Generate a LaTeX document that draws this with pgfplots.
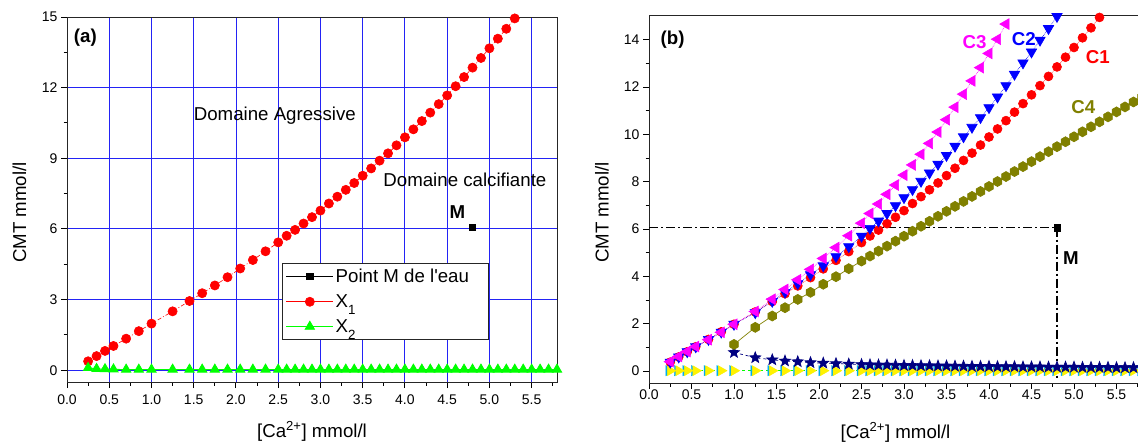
\documentclass[border=0pt]{standalone}
\usepackage{fontspec}
\setmainfont{Liberation Sans}
\usepackage{pgfplots}
\pgfplotsset{compat=1.18}
\usepackage{pgfplotstable}

\definecolor{gridblue}{RGB}{35,35,245}
\definecolor{navyc}{RGB}{0,0,128}
\definecolor{olivec}{RGB}{128,128,0}
\definecolor{magc}{RGB}{255,0,255}

\pgfdeclareplotmark{hexagon*}{%
  \pgfpathmoveto{\pgfpointpolar{90}{\pgfplotmarksize}}%
  \pgfpathlineto{\pgfpointpolar{150}{\pgfplotmarksize}}%
  \pgfpathlineto{\pgfpointpolar{210}{\pgfplotmarksize}}%
  \pgfpathlineto{\pgfpointpolar{270}{\pgfplotmarksize}}%
  \pgfpathlineto{\pgfpointpolar{330}{\pgfplotmarksize}}%
  \pgfpathlineto{\pgfpointpolar{30}{\pgfplotmarksize}}%
  \pgfpathclose\pgfusepathqfillstroke}

\pgfdeclareplotmark{fstar}{%
  \pgfpathmoveto{\pgfpointpolar{90}{\pgfplotmarksize}}%
  \pgfpathlineto{\pgfpointpolar{126}{0.42*\pgfplotmarksize}}%
  \pgfpathlineto{\pgfpointpolar{162}{\pgfplotmarksize}}%
  \pgfpathlineto{\pgfpointpolar{198}{0.42*\pgfplotmarksize}}%
  \pgfpathlineto{\pgfpointpolar{234}{\pgfplotmarksize}}%
  \pgfpathlineto{\pgfpointpolar{270}{0.42*\pgfplotmarksize}}%
  \pgfpathlineto{\pgfpointpolar{306}{\pgfplotmarksize}}%
  \pgfpathlineto{\pgfpointpolar{342}{0.42*\pgfplotmarksize}}%
  \pgfpathlineto{\pgfpointpolar{18}{\pgfplotmarksize}}%
  \pgfpathlineto{\pgfpointpolar{54}{0.42*\pgfplotmarksize}}%
  \pgfpathclose\pgfusepathqfillstroke}

% X1 (= C1)
\pgfplotstableread{
x y
0.25 0.38
0.35 0.60
0.45 0.82
0.55 1.03
0.70 1.34
0.85 1.66
1.00 1.98
1.25 2.50
1.45 2.94
1.60 3.27
1.75 3.60
1.90 3.95
2.05 4.32
2.20 4.68
2.35 5.05
2.50 5.43
2.60 5.71
2.70 5.96
2.80 6.23
2.90 6.50
3.00 6.78
3.10 7.08
3.20 7.37
3.30 7.66
3.40 7.95
3.50 8.26
3.60 8.57
3.70 8.90
3.80 9.21
3.90 9.55
4.00 9.89
4.10 10.23
4.20 10.58
4.30 10.94
4.40 11.30
4.50 11.67
4.60 12.06
4.70 12.45
4.80 12.85
4.90 13.26
5.00 13.67
5.10 14.08
5.20 14.50
5.30 14.94
}\xone

% X2
\pgfplotstableread{
x y
0.25 0.10
0.35 0.06
0.45 0.05
0.55 0.04
0.70 0.03
0.85 0.03
1.00 0.03
1.25 0.03
1.45 0.03
1.60 0.03
1.75 0.03
1.90 0.03
2.05 0.03
2.20 0.03
2.35 0.03
2.50 0.03
2.60 0.03
2.70 0.03
2.80 0.03
2.90 0.03
3.00 0.03
3.10 0.03
3.20 0.03
3.30 0.03
3.40 0.03
3.50 0.03
3.60 0.03
3.70 0.03
3.80 0.03
3.90 0.03
4.00 0.03
4.10 0.03
4.20 0.03
4.30 0.03
4.40 0.03
4.50 0.03
4.60 0.03
4.70 0.03
4.80 0.03
4.90 0.03
5.00 0.03
5.10 0.03
5.20 0.03
5.30 0.03
5.40 0.03
5.50 0.03
5.60 0.03
5.70 0.03
5.80 0.03
}\xtwo

% C2
\pgfplotstableread{
x y
0.25 0.38
0.35 0.60
0.45 0.82
0.55 1.03
0.70 1.34
0.85 1.65
1.00 1.98
1.25 2.47
1.45 2.95
1.60 3.33
1.75 3.70
1.90 4.08
2.05 4.45
2.20 4.84
2.35 5.26
2.50 5.70
2.60 6.03
2.70 6.34
2.80 6.66
2.90 6.99
3.00 7.33
3.10 7.67
3.20 8.02
3.30 8.37
3.40 8.74
3.50 9.11
3.60 9.50
3.70 9.90
3.80 10.30
3.90 10.71
4.00 11.13
4.10 11.58
4.20 12.06
4.30 12.54
4.40 13.02
4.50 13.48
4.60 13.98
4.70 14.47
4.80 14.98
}\ctwo

% C3
\pgfplotstableread{
x y
0.25 0.40
0.35 0.62
0.45 0.83
0.55 1.04
0.70 1.33
0.85 1.64
1.00 1.98
1.25 2.52
1.45 3.04
1.60 3.45
1.75 3.86
1.90 4.30
2.05 4.76
2.20 5.22
2.35 5.72
2.50 6.25
2.60 6.66
2.70 7.06
2.80 7.47
2.90 7.86
3.00 8.28
3.10 8.71
3.20 9.16
3.30 9.62
3.40 10.10
3.50 10.62
3.60 11.15
3.70 11.70
3.80 12.26
3.90 12.82
4.00 13.42
4.10 14.02
4.20 14.66
}\cthree

% C4
\pgfplotstableread{
x y
1.00 1.13
1.25 1.85
1.45 2.33
1.60 2.68
1.75 3.03
1.90 3.33
2.05 3.67
2.20 3.99
2.35 4.33
2.50 4.65
2.60 4.86
2.70 5.07
2.80 5.28
2.90 5.49
3.00 5.70
3.10 5.91
3.20 6.12
3.30 6.33
3.40 6.54
3.50 6.75
3.60 6.96
3.70 7.17
3.80 7.38
3.90 7.59
4.00 7.80
4.10 8.01
4.20 8.22
4.30 8.43
4.40 8.64
4.50 8.85
4.60 9.06
4.70 9.27
4.80 9.48
4.90 9.69
5.00 9.90
5.10 10.11
5.20 10.32
5.30 10.53
5.40 10.74
5.50 10.95
5.60 11.16
5.70 11.37
5.80 11.58
}\cfour

% stars
\pgfplotstableread{
x y
1.00 0.79
1.25 0.57
1.45 0.48
1.60 0.43
1.75 0.40
1.90 0.36
2.05 0.34
2.20 0.32
2.35 0.30
2.50 0.28
2.60 0.27
2.70 0.26
2.80 0.26
2.90 0.25
3.00 0.24
3.10 0.24
3.20 0.23
3.30 0.23
3.40 0.22
3.50 0.22
3.60 0.21
3.70 0.21
3.80 0.20
3.90 0.20
4.00 0.20
4.10 0.19
4.20 0.19
4.30 0.19
4.40 0.18
4.50 0.18
4.60 0.18
4.70 0.17
4.80 0.17
4.90 0.17
5.00 0.17
5.10 0.16
5.20 0.16
5.30 0.16
5.40 0.16
5.50 0.15
5.60 0.15
5.70 0.15
5.80 0.15
}\cstar

% bottom series (yellow / cyan)
\pgfplotstableread{
x y
0.25 0.02
0.35 0.02
0.45 0.02
0.55 0.02
0.70 0.02
0.85 0.02
1.00 0.02
1.25 0.02
1.45 0.02
1.60 0.02
1.75 0.02
1.90 0.02
2.05 0.02
2.20 0.02
2.35 0.02
2.50 0.02
2.60 0.02
2.70 0.02
2.80 0.02
2.90 0.02
3.00 0.02
3.10 0.02
3.20 0.02
3.30 0.02
3.40 0.02
3.50 0.02
3.60 0.02
3.70 0.02
3.80 0.02
3.90 0.02
4.00 0.02
4.10 0.02
4.20 0.02
4.30 0.02
4.40 0.02
4.50 0.02
4.60 0.02
4.70 0.02
4.80 0.02
4.90 0.02
5.00 0.02
5.10 0.02
5.20 0.02
5.30 0.02
5.40 0.02
5.50 0.02
5.60 0.02
5.70 0.02
5.80 0.02
}\cbot

\newcommand{\bigf}{\fontsize{18.67}{22}\selectfont}
\newcommand{\tck}{\fontsize{14}{16}\selectfont}
\newcommand{\sub}[1]{\raisebox{-7pt}{\fontsize{13.33}{14}\selectfont #1}}

\pgfplotsset{
  common/.style={
    scale only axis,
    anchor=south west,
    xmin=0, xmax=5.8, ymin=-0.5, ymax=15,
    xtick={0,0.5,...,5.5},
    minor xtick={0.25,0.75,...,5.75},
    tick align=outside,
    tick pos=left,
    major tick length=6pt,
    minor tick length=3.5pt,
    every tick/.style={black, line width=1pt},
    axis line style={line width=1pt, black!85},
    tick label style={font=\tck},
    /pgf/number format/assume math mode=true,
    xticklabel style={/pgf/number format/.cd, fixed, fixed zerofill, precision=1},
    label style={font=\bigf},
    xlabel={[Ca\textsuperscript{2+}] mmol/l},
    ylabel={CMT mmol/l},
    xlabel style={at={(axis description cs:0.5,0)}, anchor=base, yshift=-55pt},
  },
}

\begin{document}
\begin{tikzpicture}
\useasboundingbox (0,0) rectangle (1138pt,445pt);

% ---------------- (a) ----------------
\begin{axis}[common,
  at={(67pt,63pt)}, width=490pt, height=365pt,
  ytick={0,3,...,15},
  minor ytick={1.5,4.5,...,13.5},
  yticklabel style={/pgf/number format/.cd, fixed, precision=0},
  xticklabel style={/tikz/yshift=-3pt},
  grid=major,
  major grid style={gridblue, line width=0.9pt},
  ylabel style={at={(axis description cs:-0.097,0.464)}, anchor=center},
  legend style={at={(axis cs:2.55,4.55)}, anchor=north west, draw=black!85,
    line width=1pt, font=\bigf, inner xsep=3pt, inner ysep=3.5pt, row sep=6.5pt,
    cells={anchor=west}},
  legend image code/.code={\draw[mark repeat=2,mark phase=2,#1,solid] plot coordinates {(0pt,0pt) (23.5pt,0pt) (47pt,0pt)};},
]
\addplot[black, line width=0.8pt, mark=square*, mark size=3.3, mark options={solid}] coordinates {(4.8,6.07)};
\addplot[red, line width=0.6pt, dash pattern=on 4pt off 2pt on 1pt off 2pt, mark=*, mark size=4.6, mark options={solid}] table[x=x,y=y] {\xone};
\addplot[green, line width=0.8pt, mark=triangle*, mark size=5.4, mark options={solid}] table[x=x,y=y] {\xtwo};
\legend{Point M de l\textquotesingle eau\hspace*{14pt}, X\sub{1}, X\sub{2}}
\node[font=\bfseries\bigf, inner sep=0pt, anchor=west] at (axis cs:0.08,14.14) {(a)};
\node[font=\bigf] at (axis cs:2.46,10.83) {Domaine Agressive};
\node[font=\bigf] at (axis cs:4.71,8.08) {Domaine calcifiante};
\node[font=\bfseries\bigf] at (axis cs:4.62,6.70) {M};
\end{axis}

% ---------------- (b) ----------------
\begin{axis}[common,
  at={(649pt,62pt)}, width=493pt, height=367pt,
  ytick={0,2,...,14},
  minor ytick={1,3,...,13},
  yticklabel style={/pgf/number format/.cd, fixed, precision=0},
  xticklabel style={/tikz/yshift=3pt},
  ylabel style={at={(axis description cs:-0.0953,0.4646)}, anchor=center},
]
\addplot[black, line width=1.1pt, dash pattern=on 9pt off 3pt on 2pt off 3pt] coordinates {(0,6.06) (4.8,6.06) (4.8,-0.3)};
\addplot[black, only marks, mark=square*, mark size=3.2] coordinates {(4.8,6.06)};
\addplot[green, dashed, line width=0.8pt] table[x=x,y=y] {\cbot};
\addplot[cyan, only marks, mark=triangle*, mark size=6, mark options={xshift=-1.5pt, rotate=-90}] table[x=x,y=y] {\cbot};
\addplot[yellow, only marks, mark=triangle*, mark size=5.8, mark options={rotate=-90}] table[x=x,y=y] {\cbot};
\addplot[navyc, dashed, line width=0.7pt, mark=fstar, mark size=5.8, mark options={solid}] table[x=x,y=y] {\cstar};
\addplot[olivec, line width=0.7pt, mark=hexagon*, mark size=5, mark options={solid}] table[x=x,y=y] {\cfour};
\addplot[red, densely dotted, line width=0.6pt, mark=*, mark size=4.5, mark options={solid}] table[x=x,y=y] {\xone};
\addplot[blue, densely dotted, line width=0.6pt, mark=triangle*, mark size=6, mark options={solid, rotate=180}] table[x=x,y=y] {\ctwo};
\addplot[magc, densely dotted, line width=0.6pt, mark=triangle*, mark size=6.2, mark options={solid, rotate=90}] table[x=x,y=y] {\cthree};
\node[font=\bfseries\bigf, inner sep=0pt, anchor=west] at (axis cs:0.135,14.02) {(b)};
\node[font=\bfseries\bigf, inner sep=0pt, anchor=west] at (axis cs:4.87,4.77) {M};
\node[font=\bfseries\bigf, text=magc] at (axis cs:3.83,13.89) {C3};
\node[font=\bfseries\bigf, text=blue] at (axis cs:4.41,14.02) {C2};
\node[font=\bfseries\bigf, text=red] at (axis cs:5.28,13.28) {C1};
\node[font=\bfseries\bigf, text=olivec] at (axis cs:5.11,11.14) {C4};
\end{axis}
\end{tikzpicture}
\end{document}
